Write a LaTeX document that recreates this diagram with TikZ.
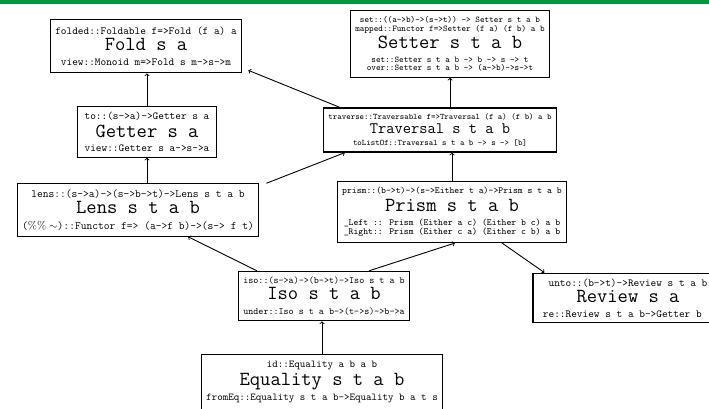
\documentclass[tikz,border=0pt]{standalone}
\usepackage{tikz}
\usepackage{amssymb}
\usepackage{xcolor}
\definecolor{topgreen}{RGB}{0,150,64}

\newcommand{\tyname}[1]{{\fontsize{20}{20}\selectfont\rule[-7pt]{0pt}{21.5pt}#1}}
\newcommand{\tynamesm}[1]{{\fontsize{16}{16}\selectfont\rule[-5pt]{0pt}{17pt}#1}}

\begin{document}
\begin{tikzpicture}
  [x=1pt,y=-1pt,every node/.style={draw,line width=1.1pt,rectangle,align=center,inner xsep=5pt,inner ysep=7pt,font=\ttfamily\fontsize{10.8}{12}\selectfont}]
  \useasboundingbox (0,0) rectangle (709,408);
  \fill[topgreen] (0,0) rectangle (709,4);

  \node[inner ysep=7.5pt] (fold) at (146,46) {folded::Foldable f=>Fold (f a) a\\ \tyname{Fold s a}\\ view::Monoid m=>Fold s m->s->m};
  \node[font=\ttfamily\fontsize{8.8}{8.8}\selectfont,inner ysep=5.5pt] (setter) at (450,44) {set::((a->b)->(s->t)) -> Setter s t a b\\ mapped::Functor f=>Setter (f a) (f b) a b\\ \tyname{Setter s t a b}\\ set::Setter s t a b -> b -> s -> t\\ over::Setter s t a b -> (a->b)->s->t};
  \node[inner xsep=7pt,inner ysep=5pt] (getter) at (147,132) {to::(s->a)->Getter s a\\[1.5pt] \tyname{Getter s a}\\ view::Getter s a->s->a};
  \node[font=\ttfamily\fontsize{8.4}{10}\selectfont,inner ysep=6pt] (traversal) at (440,130) {traverse::Traversable f=>Traversal (f a) (f b) a b\\ \tynamesm{Traversal s t a b}\\ toListOf::Traversal s t a b -> s -> [b]};
  \node[font=\ttfamily\fontsize{11.2}{12}\selectfont,inner ysep=5.5pt] (lens) at (138,210) {lens::(s->a)->(s->b->t)->Lens s t a b\\ \tyname{Lens s t a b}\\ ($\%\%\sim$)::Functor f=> (a->f b)->(s-> f t)};
  \node[font=\ttfamily\fontsize{9.3}{9.3}\selectfont,inner ysep=5.5pt] (prism) at (452,212) {prism::(b->t)->(s->Either t a)->Prism s t a b\\ \tyname{Prism s t a b}\\ \_Left :: Prism (Either a c) (Either b c) a b\\ \_Right:: Prism (Either c a) (Either c b) a b};
  \node[font=\ttfamily\fontsize{9.6}{11}\selectfont,inner ysep=5.5pt] (iso) at (324,296) {iso::(s->a)->(b->t)->Iso s t a b\\ \tyname{Iso s t a b}\\ under::Iso s t a b->(t->s)->b->a};
  \node[minimum width=190pt,inner ysep=5.5pt] (review) at (628,298) {unto::(b->t)->Review s t a b\\ \tyname{Review s a}\\ re::Review s t a b->Getter b\hphantom{ t}};
  \node[font=\ttfamily\fontsize{10.5}{12}\selectfont] (equality) at (322,382) {id::Equality a b a b\\ \tyname{Equality s t a b}\\ fromEq::Equality s t a b->Equality b a t s};

  \draw[->,line width=0.9pt] (getter.north) -- (getter.north |- fold.south);
  \draw[->,line width=0.9pt] (lens.north -| getter.south) -- (getter.south);
  \draw[->,line width=0.9pt] (traversal.north -| setter.south) -- (setter.south);
  \draw[->,line width=0.9pt] (prism.north) -- (prism.north |- traversal.south);
  \draw[->,line width=0.9pt] (equality.north) -- (equality.north |- iso.south);
  \draw[->,line width=0.9pt] ([xshift=17pt]traversal.north west) -- ([shift={(6,-3)}]fold.south east);
  \draw[->,line width=0.9pt] ([xshift=7pt]lens.north east) -- ([xshift=22pt]traversal.south west);
  \draw[->,line width=0.9pt] ([xshift=19pt]iso.north west) -- ([xshift=50pt]lens.south);
  \draw[->,line width=0.9pt] ([xshift=-41pt]iso.north east) -- ([xshift=3pt]prism.south);
  \draw[->,line width=0.9pt] ([xshift=50pt]prism.south) -- ([xshift=12pt]review.north west);
\end{tikzpicture}
\end{document}
